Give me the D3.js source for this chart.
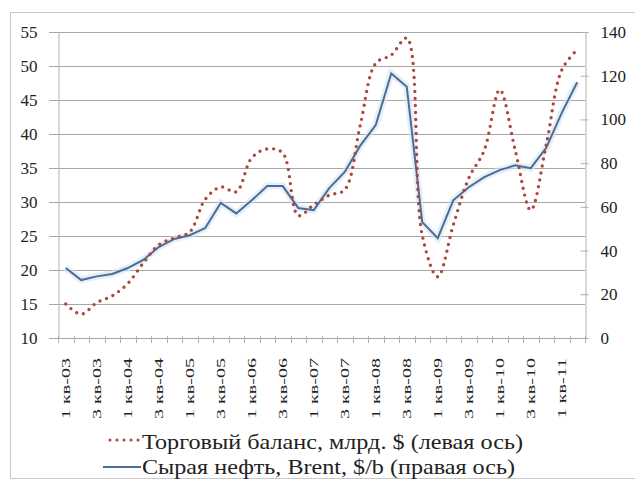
<!DOCTYPE html>
<html>
<head>
<meta charset="utf-8">
<script src="https://cdn.jsdelivr.net/npm/d3@7"></script>
<style>
  body { margin: 0; background: #fff; }
</style>
</head>
<body>
<div id="chart"></div>
<script>
// quarters 1 кв-03 .. 2 кв-11
const quarters = [];
for (let y = 3; y <= 11; y++) {
    for (let q = 1; q <= 4; q++) {
        if (y === 11 && q > 2) break;
        quarters.push(`${q} кв-${String(y).padStart(2, '0')}`);
    }
}

// trade balance, bn $ (left axis)
const tradeBalance = [15.0, 13.5, 15.2, 16.2, 18.0, 21.0, 23.7, 24.7, 25.6, 30.4, 32.2, 31.5,
    36.5, 37.8, 37.2, 28.0, 29.6, 31.0, 31.8, 41.3, 50.4, 51.6, 54.1, 25.1,
    19.0, 26.6, 33.5, 37.6, 46.5, 37.6, 28.8, 38.4, 49.4, 52.4];

// Brent crude, $/b (right axis)
const brent = [32.0, 26.5, 28.2, 29.3, 32.0, 35.7, 41.6, 45.3, 47.0, 50.3, 61.8, 57.0,
    63.0, 69.5, 69.5, 59.5, 58.5, 68.6, 76.0, 88.0, 97.4, 121.0, 115.0, 53.0,
    45.7, 63.0, 69.0, 73.6, 76.8, 79.0, 77.7, 87.0, 103.0, 117.0];

const leftTicks = [10, 15, 20, 25, 30, 35, 40, 45, 50, 55];
const rightTicks = [0, 20, 40, 60, 80, 100, 120, 140];
const legendLabels = ['Торговый баланс, млрд. $ (левая ось)', 'Сырая нефть, Brent, $/b (правая ось)'];

const width = 635, height = 483;
const plot = { left: 58, right: 585, top: 32, bottom: 338 };
const red = '#b0463f', blue = '#4a6d96';

// pick the first serif family that is really installed
const pickFont = () => {
    const ctx = document.createElement('canvas').getContext('2d');
    const probe = 'Торговый баланс 0123456789 mmwwiill';
    const widthOf = f => { ctx.font = `40px ${f}`; return ctx.measureText(probe).width; };
    const candidates = ['Liberation Serif', 'Times New Roman', 'DejaVu Serif', 'Noto Serif', 'Tinos'];
    for (const c of candidates) {
        if (widthOf(`"${c}", monospace`) !== widthOf('monospace') &&
            widthOf(`"${c}", sans-serif`) !== widthOf('sans-serif')) return `"${c}", serif`;
    }
    return 'serif';
};
const FONT = pickFont();

const svg = d3.select('#chart').append('svg')
    .attr('width', width)
    .attr('height', height)
    .style('font-family', FONT);

// outer chart frame
svg.append('rect')
    .attr('x', 10.5).attr('y', 12.5)
    .attr('width', 640).attr('height', 466)
    .attr('fill', 'none')
    .attr('stroke', '#c8c8c8');

const x = d3.scaleBand()
    .domain(quarters)
    .range([plot.left, plot.right]);

const yLeft = d3.scaleLinear().domain([10, 55]).range([plot.bottom, plot.top]);
const yRight = d3.scaleLinear().domain([0, 140]).range([plot.bottom, plot.top]);

// gridlines (left axis)
svg.append('g')
    .selectAll('line')
    .data(leftTicks)
    .join('line')
    .attr('x1', plot.left - 9).attr('x2', plot.right)
    .attr('y1', d => Math.round(yLeft(d)) + 0.5)
    .attr('y2', d => Math.round(yLeft(d)) + 0.5)
    .attr('stroke', '#a6a6a6');

// left axis
const leftAxis = svg.append('g')
    .attr('transform', `translate(${plot.left + 0.5},0)`)
    .call(d3.axisLeft(yLeft).tickValues(leftTicks).tickSize(0).tickPadding(21));
leftAxis.attr('font-family', null);
leftAxis.select('.domain').attr('stroke', '#b0b0b0');
leftAxis.selectAll('text')
    .style('font-family', FONT).style('font-size', '17px').attr('fill', '#222');

// right axis
const rightAxis = svg.append('g')
    .attr('transform', `translate(${plot.right + 0.5},0)`)
    .call(d3.axisRight(yRight).tickValues(rightTicks).tickSize(3).tickPadding(12));
rightAxis.attr('font-family', null);
rightAxis.select('.domain').attr('stroke', '#b0b0b0');
rightAxis.selectAll('.tick line').attr('stroke', '#b0b0b0').attr('x1', -5);
rightAxis.selectAll('text')
    .style('font-family', FONT).style('font-size', '17px').attr('fill', '#222');

// category tick marks
svg.append('g')
    .selectAll('line')
    .data(d3.range(quarters.length + 1))
    .join('line')
    .attr('x1', i => Math.round(plot.left + i * x.step()) + 0.5)
    .attr('x2', i => Math.round(plot.left + i * x.step()) + 0.5)
    .attr('y1', plot.bottom - 2)
    .attr('y2', plot.bottom + 5)
    .attr('stroke', '#b0b0b0');

// category labels (every second quarter), stretched along their length like the original
const catLabels = svg.append('g')
    .selectAll('text')
    .data(quarters.filter((d, i) => i % 2 === 0))
    .join('text')
    .attr('text-anchor', 'end')
    .attr('dy', '0.35em')
    .style('font-size', '13px')
    .attr('fill', '#222')
    .text(d => d);

const baseLen = catLabels.node().getComputedTextLength();
const stretch = 61 / baseLen;
catLabels.attr('transform', d =>
    `translate(${x(d) + x.bandwidth() / 2},${plot.bottom + 20}) rotate(-90) scale(${stretch},1)`);

const cx = d => x(d) + x.bandwidth() / 2;

// brent line
const brentLine = d3.line()
    .x((d, i) => cx(quarters[i]))
    .y(d => yRight(d));

svg.append('path')
    .datum(brent)
    .attr('d', brentLine)
    .attr('fill', 'none')
    .attr('stroke', '#d5e4f3')
    .attr('stroke-width', 7)
    .attr('opacity', 0.6);

svg.append('path')
    .datum(brent)
    .attr('d', brentLine)
    .attr('fill', 'none')
    .attr('stroke', blue)
    .attr('stroke-width', 2);

// trade balance dotted smooth line
const tradeLine = d3.line()
    .x((d, i) => cx(quarters[i]))
    .y(d => yLeft(d))
    .curve(d3.curveCatmullRom.alpha(0.5));

svg.append('path')
    .datum(tradeBalance)
    .attr('d', tradeLine)
    .attr('fill', 'none')
    .attr('stroke', red)
    .attr('stroke-width', 3.4)
    .attr('stroke-linecap', 'round')
    .attr('stroke-dasharray', '0,7');

// legend
const legend = svg.append('g');
const rows = [442, 467];
const rowWidths = [381, 373];

legend.append('line')
    .attr('x1', 110).attr('x2', 139)
    .attr('y1', rows[0] - 2).attr('y2', rows[0] - 2)
    .attr('stroke', red)
    .attr('stroke-width', 3)
    .attr('stroke-linecap', 'round')
    .attr('stroke-dasharray', '0,7');

legend.append('line')
    .attr('x1', 103).attr('x2', 141)
    .attr('y1', rows[1]).attr('y2', rows[1])
    .attr('stroke', blue)
    .attr('stroke-width', 2);

legend.selectAll('text')
    .data(legendLabels)
    .join('text')
    .attr('x', 142)
    .attr('y', (d, i) => rows[i])
    .attr('dy', '0.35em')
    .attr('textLength', (d, i) => rowWidths[i])
    .attr('lengthAdjust', 'spacingAndGlyphs')
    .style('font-size', '21px')
    .attr('fill', '#222')
    .text(d => d);
</script>
</body>
</html>
